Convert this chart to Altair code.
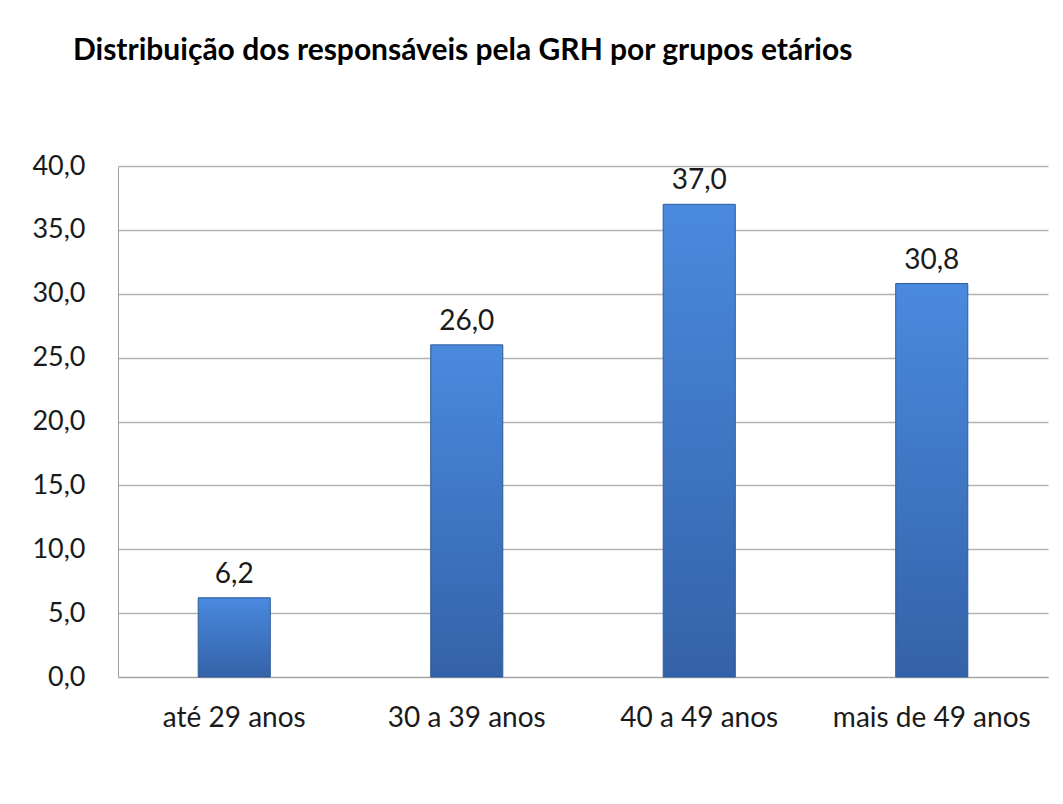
import altair as alt
import pandas as pd

categories = ["até 29 anos", "30 a 39 anos", "40 a 49 anos", "mais de 49 anos"]
values = [6.2, 26.0, 37.0, 30.8]
labels = ["6,2", "26,0", "37,0", "30,8"]

df = pd.DataFrame({"cat": categories, "val": values, "lab": labels})

FONT = "Lato"

x = alt.X("cat:N", sort=categories, title=None,
          scale=alt.Scale(paddingInner=0.69, paddingOuter=0.345),
          axis=alt.Axis(labelAngle=0, labelFontSize=28, labelColor="#1a1a1a",
                        labelFont=FONT, ticks=False, domainColor="#a0a0a0",
                        labelPadding=27, domain=True, labelLimit=0))
y = alt.Y("val:Q", title=None,
          scale=alt.Scale(domain=[0, 40]),
          axis=alt.Axis(values=[0, 5, 10, 15, 20, 25, 30, 35, 40],
                        labelExpr="replace(format(datum.value, '.1f'), '.', ',')",
                        labelFontSize=27, labelColor="#1a1a1a", labelFont=FONT,
                        ticks=False, domainColor="#a0a0a0", labelPadding=33,
                        gridColor="#b3b3b3", gridWidth=1.3))

bars = alt.Chart(df).mark_bar(
    color=alt.Gradient(
        gradient="linear", x1=0, x2=0, y1=0, y2=1,
        stops=[alt.GradientStop(offset=0, color="#4a8ade"),
               alt.GradientStop(offset=1, color="#3462a8")]),
    stroke="#2d5a9a", strokeWidth=1
).encode(x=x, y=y)

text = alt.Chart(df).mark_text(dy=-23, fontSize=28, font=FONT, color="#1a1a1a").encode(
    x=alt.X("cat:N", sort=categories), y="val:Q", text="lab:N")

chart = (bars + text).properties(
    width=930, height=511,
    autosize=alt.AutoSizeParams(type="none"),
    padding={"left": 110, "top": 158, "right": 7, "bottom": 120},
    title=alt.TitleParams("Distribuição dos responsáveis pela GRH por grupos etários",
                          anchor="start", dx=-45, offset=86, fontSize=30,
                          font=FONT, fontWeight="bold", color="#000000", frame="group"),
    background="white"
).configure_view(stroke=None)

chart.save("out.html", embed_options={"renderer": "svg", "actions": False})
